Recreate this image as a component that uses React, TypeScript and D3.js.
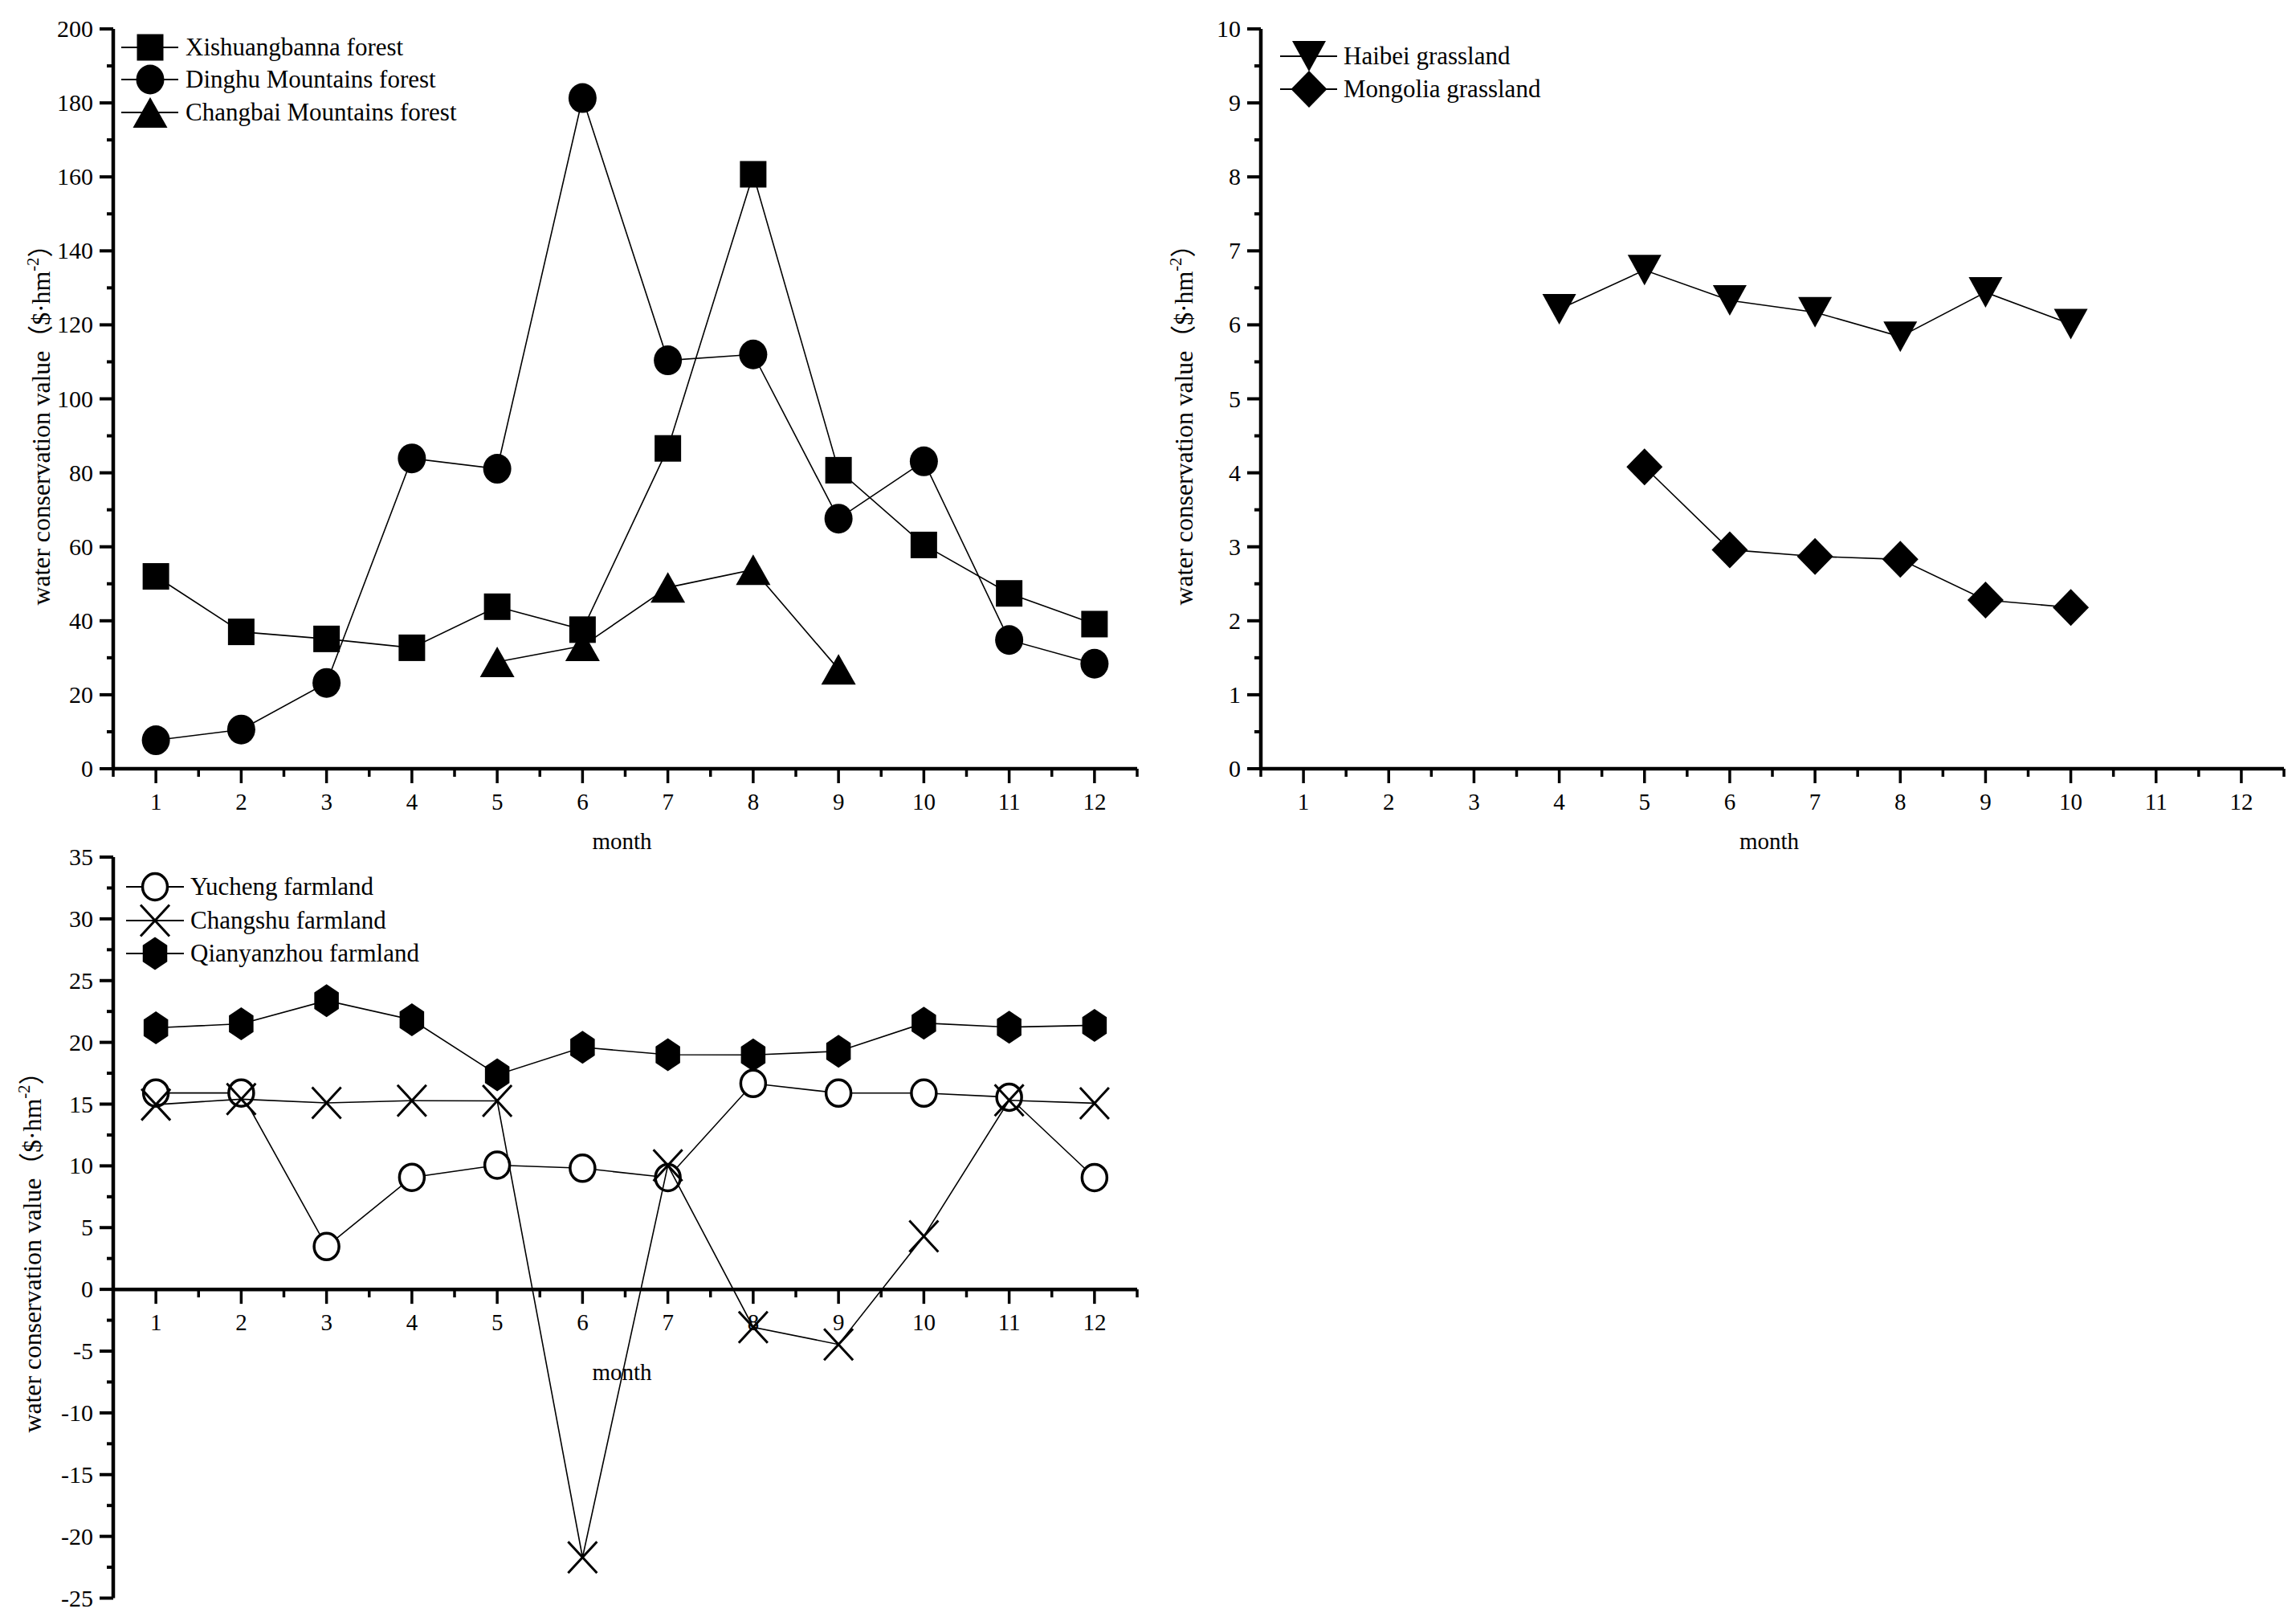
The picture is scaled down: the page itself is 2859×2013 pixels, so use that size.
import * as d3 from 'd3';
import React from 'react';

// month axis and series
const months = d3.range(1, 13);

const xishuangbanna = [52.0, 37.0, 35.1, 32.7, 43.8, 37.6, 86.6, 160.7, 80.7, 60.5, 47.4, 39.1];
const dinghu = [7.7, 10.6, 23.2, 83.9, 81.1, 181.3, 110.4, 112.0, 67.6, 83.1, 34.8, 28.4];
const changbaiMonths = [5, 6, 7, 8, 9];
const changbai = [28.9, 33.2, 49.0, 53.8, 26.9];

const haibeiMonths = [4, 5, 6, 7, 8, 9, 10];
const haibei = [6.21, 6.74, 6.33, 6.17, 5.84, 6.44, 6.01];
const mongoliaMonths = [5, 6, 7, 8, 9, 10];
const mongolia = [4.08, 2.96, 2.87, 2.83, 2.28, 2.18];

const yucheng = [15.9, 15.9, 3.47, 9.07, 10.06, 9.81, 9.05, 16.67, 15.89, 15.89, 15.56, 9.05];
const changshu = [14.96, 15.4, 15.1, 15.28, 15.26, -21.7, 10.04, -3.06, -4.46, 4.3, 15.31, 15.07];
const qianyanzhou = [21.18, 21.5, 23.38, 21.83, 17.38, 19.6, 19.0, 18.98, 19.28, 21.56, 21.23, 21.38];

const forestTicks = d3.range(0, 201, 20);
const grassTicks = d3.range(0, 11, 1);
const farmTicks = d3.range(-25, 36, 5);

const FONT = '"Liberation Serif", "Times New Roman", "Noto Sans CJK SC", serif';

type Series = { name: string; x: number[]; y: number[]; marker: string };

const forestSeries: Series[] = [
    { name: 'Xishuangbanna forest', x: months, y: xishuangbanna, marker: 'square' },
    { name: 'Dinghu Mountains forest', x: months, y: dinghu, marker: 'circle' },
    { name: 'Changbai Mountains forest', x: changbaiMonths, y: changbai, marker: 'triangle' },
];
const grassSeries: Series[] = [
    { name: 'Haibei grassland', x: haibeiMonths, y: haibei, marker: 'down' },
    { name: 'Mongolia grassland', x: mongoliaMonths, y: mongolia, marker: 'diamond' },
];
const farmSeries: Series[] = [
    { name: 'Yucheng farmland', x: months, y: yucheng, marker: 'open' },
    { name: 'Changshu farmland', x: months, y: changshu, marker: 'cross' },
    { name: 'Qianyanzhou farmland', x: months, y: qianyanzhou, marker: 'hexagon' },
];

function Marker({ type, x, y }: { type: string; x: number; y: number }) {
    const t = `translate(${x},${y})`;
    if (type === 'square') return <rect transform={t} x={-16.5} y={-16.5} width={33} height={33} fill="#000" />;
    if (type === 'circle') return <ellipse transform={t} rx={17.5} ry={18.5} fill="#000" />;
    if (type === 'triangle') return <path transform={t} d="M0,-19L21.5,19L-21.5,19Z" fill="#000" />;
    if (type === 'down') return <path transform={t} d="M-21,-19L21,-19L0,19Z" fill="#000" />;
    if (type === 'diamond') return <path transform={t} d="M0,-23L22.5,0L0,23L-22.5,0Z" fill="#000" />;
    if (type === 'open') return <ellipse transform={t} rx={15.5} ry={16.5} fill="#fff" stroke="#000" strokeWidth={3.5} />;
    if (type === 'cross') return (
        <path transform={t} d="M-18,-19.5L18,19.5M18,-19.5L-18,19.5" stroke="#000" strokeWidth={3} fill="none" />
    );
    // hexagon, pointy top
    const r = 20.5;
    const pts = d3.range(6).map(i => {
        const a = (Math.PI / 3) * i - Math.PI / 2;
        return `${r * Math.cos(a) * 0.86},${r * Math.sin(a)}`;
    });
    return <polygon transform={t} points={pts.join(' ')} fill="#000" />;
}

type PanelProps = {
    left: number; right: number; top: number; bottom: number;
    domain: [number, number]; ticks: number[]; minorStep: number;
    zero: number; series: Series[];
    legend: { x1: number; x2: number; mx: number; tx: number; rows: number[] };
    titleX: number; titleY: number; monthDy: number; labelX: number;
};

function Panel(p: PanelProps) {
    const x = d3.scaleLinear().domain([0.5, 12.5]).range([p.left, p.right]);
    const y = d3.scaleLinear().domain(p.domain).range([p.bottom, p.top]);
    const axisY = y(p.zero);
    const minorY = d3.range(p.domain[0] + p.minorStep, p.domain[1], p.minorStep * 2);
    const minorX = d3.range(0.5, 12.6, 1);
    const line = d3.line<[number, number]>().x(d => x(d[0])).y(d => y(d[1]));

    return (
        <g fontFamily={FONT} fill="#000">
            {/* series */}
            {p.series.map(s => {
                const pts = s.x.map((m, i) => [m, s.y[i]] as [number, number]);
                return (
                    <g key={s.name}>
                        <path d={line(pts) || ''} fill="none" stroke="#000" strokeWidth={1.6} />
                        {pts.map((d, i) => <Marker key={i} type={s.marker} x={x(d[0])} y={y(d[1])} />)}
                    </g>
                );
            })}

            {/* y axis */}
            <line x1={p.left} x2={p.left} y1={p.top} y2={p.bottom} stroke="#000" strokeWidth={4.5} />
            {p.ticks.map(v => (
                <g key={'y' + v}>
                    <line x1={p.left - 17} x2={p.left} y1={y(v)} y2={y(v)} stroke="#000" strokeWidth={4} />
                    <text x={p.labelX} y={y(v) + 10} textAnchor="end" fontSize={30}>{String(v)}</text>
                </g>
            ))}
            {minorY.map(v => (
                <line key={'ym' + v} x1={p.left - 8} x2={p.left} y1={y(v)} y2={y(v)} stroke="#000" strokeWidth={4} />
            ))}

            {/* x axis */}
            <line x1={p.left} x2={p.right} y1={axisY} y2={axisY} stroke="#000" strokeWidth={4.5} />
            {months.map(m => (
                <g key={'x' + m}>
                    <line x1={x(m)} x2={x(m)} y1={axisY} y2={axisY + 18} stroke="#000" strokeWidth={3.5} />
                    <text x={x(m)} y={axisY + 51} textAnchor="middle" fontSize={29}>{m}</text>
                </g>
            ))}
            {minorX.map(m => (
                <line key={'xm' + m} x1={x(m)} x2={x(m)} y1={axisY} y2={axisY + 10} stroke="#000" strokeWidth={3.5} />
            ))}
            <text x={(p.left + p.right) / 2 - 4} y={axisY + p.monthDy} textAnchor="middle" fontSize={29}>month</text>

            {/* y title */}
            <text transform={`translate(${p.titleX},${p.titleY}) rotate(-90)`} textAnchor="middle" fontSize={32}
                textLength={465} lengthAdjust="spacing">
                water conservation value（$·hm<tspan dy={-14} fontSize={21}>-2</tspan><tspan dy={14}>）</tspan>
            </text>

            {/* legend */}
            {p.series.map((s, i) => (
                <g key={'lg' + s.name}>
                    <line x1={p.legend.x1} x2={p.legend.x2} y1={p.legend.rows[i]} y2={p.legend.rows[i]} stroke="#000" strokeWidth={2} />
                    <Marker type={s.marker} x={p.legend.mx} y={p.legend.rows[i]} />
                    <text x={p.legend.tx} y={p.legend.rows[i] + 10} fontSize={31}>{s.name}</text>
                </g>
            ))}
        </g>
    );
}

export default function App() {
    return (
        <svg width={2859} height={2013} style={{ position: 'absolute', left: 0, top: 0, background: '#fff' }}>
            <rect width={2859} height={2013} fill="#fff" />
            <Panel left={141} right={1416} top={36} bottom={957} domain={[0, 200]} ticks={forestTicks}
                minorStep={10} zero={0} series={forestSeries}
                legend={{ x1: 151, x2: 222, mx: 187, tx: 231, rows: [59, 99, 140] }}
                titleX={62} titleY={521} monthDy={100} labelX={116} />
            <Panel left={1570} right={2844} top={36} bottom={957} domain={[0, 10]} ticks={grassTicks}
                minorStep={0.5} zero={0} series={grassSeries}
                legend={{ x1: 1594, x2: 1665, mx: 1630, tx: 1673, rows: [70, 111] }}
                titleX={1485} titleY={521} monthDy={100} labelX={1545} />
            <Panel left={141} right={1416} top={1067} bottom={1989.5} domain={[-25, 35]} ticks={farmTicks}
                minorStep={2.5} zero={0} series={farmSeries}
                legend={{ x1: 157, x2: 229, mx: 193, tx: 237, rows: [1104, 1146, 1187] }}
                titleX={51} titleY={1551} monthDy={113} labelX={116} />
        </svg>
    );
}
